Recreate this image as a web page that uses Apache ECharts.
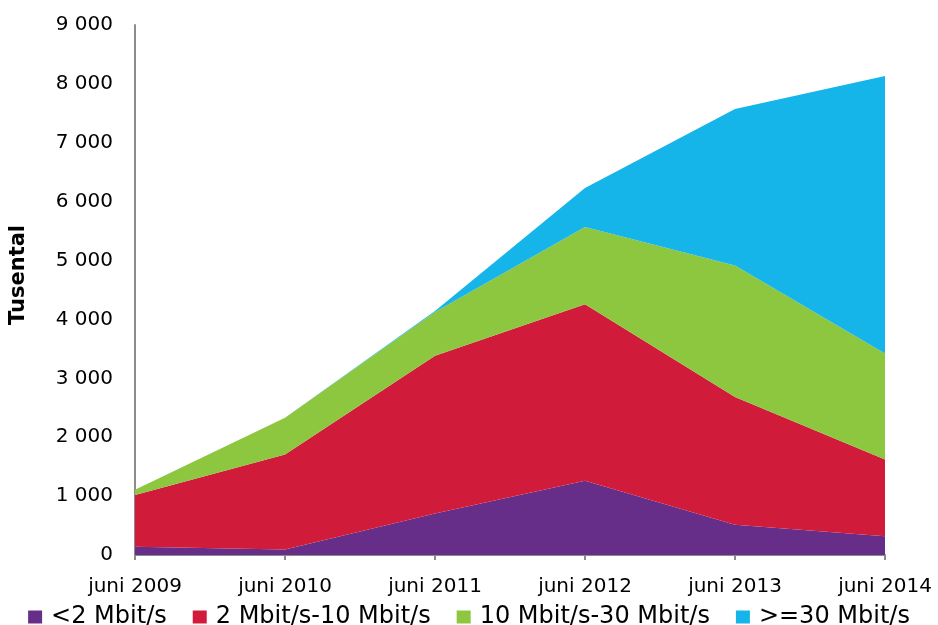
<!DOCTYPE html>
<html>
<head>
<meta charset="utf-8">
<script src="https://cdn.jsdelivr.net/npm/echarts@6/dist/echarts.min.js"></script>
<style>html,body{margin:0;padding:0;background:#fff;}#c{width:938px;height:625px;}</style>
</head>
<body>
<div id="c"></div>
<script>
const categories = ['juni 2009', 'juni 2010', 'juni 2011', 'juni 2012', 'juni 2013', 'juni 2014'];
const seriesNames = ['<2 Mbit/s', '2 Mbit/s-10 Mbit/s', '10 Mbit/s-30 Mbit/s', '>=30 Mbit/s'];
const under2 = [140, 95, 705, 1260, 515, 320];
const from2to10 = [880, 1610, 2680, 3000, 2170, 1300];
const from10to30 = [90, 625, 740, 1310, 2230, 1800];
const over30 = [0, 0, 20, 660, 2660, 4715];
const colors = ['#662D89', '#D01C3A', '#8DC63F', '#15B4E9'];
const values = [under2, from2to10, from10to30, over30];

const fmt = v => String(v).replace(/\B(?=(\d{3})+(?!\d))/g, ' ');
const font = 'DejaVu Sans, Verdana, sans-serif';

const chart = echarts.init(document.getElementById('c'));
chart.setOption({
  animation: false,
  grid: { left: 135, right: 53, top: 25, bottom: 70 },
  legend: {
    top: 600, left: 'center',
    itemWidth: 14, itemHeight: 13, itemGap: 26,
    icon: 'rect',
    textStyle: { fontFamily: font, fontSize: 24, color: '#000', padding: [0, 0, 0, 4] },
    data: seriesNames
  },
  xAxis: {
    type: 'category', boundaryGap: false, data: categories,
    axisLine: { lineStyle: { color: '#8c8c8c', width: 2 } },
    axisTick: { show: true, length: 5, lineStyle: { color: '#8c8c8c', width: 2 } },
    axisLabel: { fontFamily: font, fontSize: 20, color: '#000', margin: 22 }
  },
  yAxis: {
    type: 'value', min: 0, max: 9000, interval: 1000,
    name: 'Tusental', nameLocation: 'middle', nameGap: 106,
    nameTextStyle: { fontFamily: font, fontSize: 21, fontWeight: 'bold', color: '#000', padding: [0, 0, 0, 30] },
    axisLine: { show: true, lineStyle: { color: '#8c8c8c', width: 2 } },
    axisTick: { show: false },
    splitLine: { show: false },
    axisLabel: { fontFamily: font, fontSize: 20, color: '#000', margin: 22, formatter: fmt }
  },
  series: seriesNames.map((n, i) => ({
    name: n, type: 'line', stack: 'total', data: values[i],
    showSymbol: false, symbol: 'none',
    lineStyle: { width: 0 },
    areaStyle: { color: colors[i], opacity: 1 },
    itemStyle: { color: colors[i] }
  }))
});
</script>
</body>
</html>
